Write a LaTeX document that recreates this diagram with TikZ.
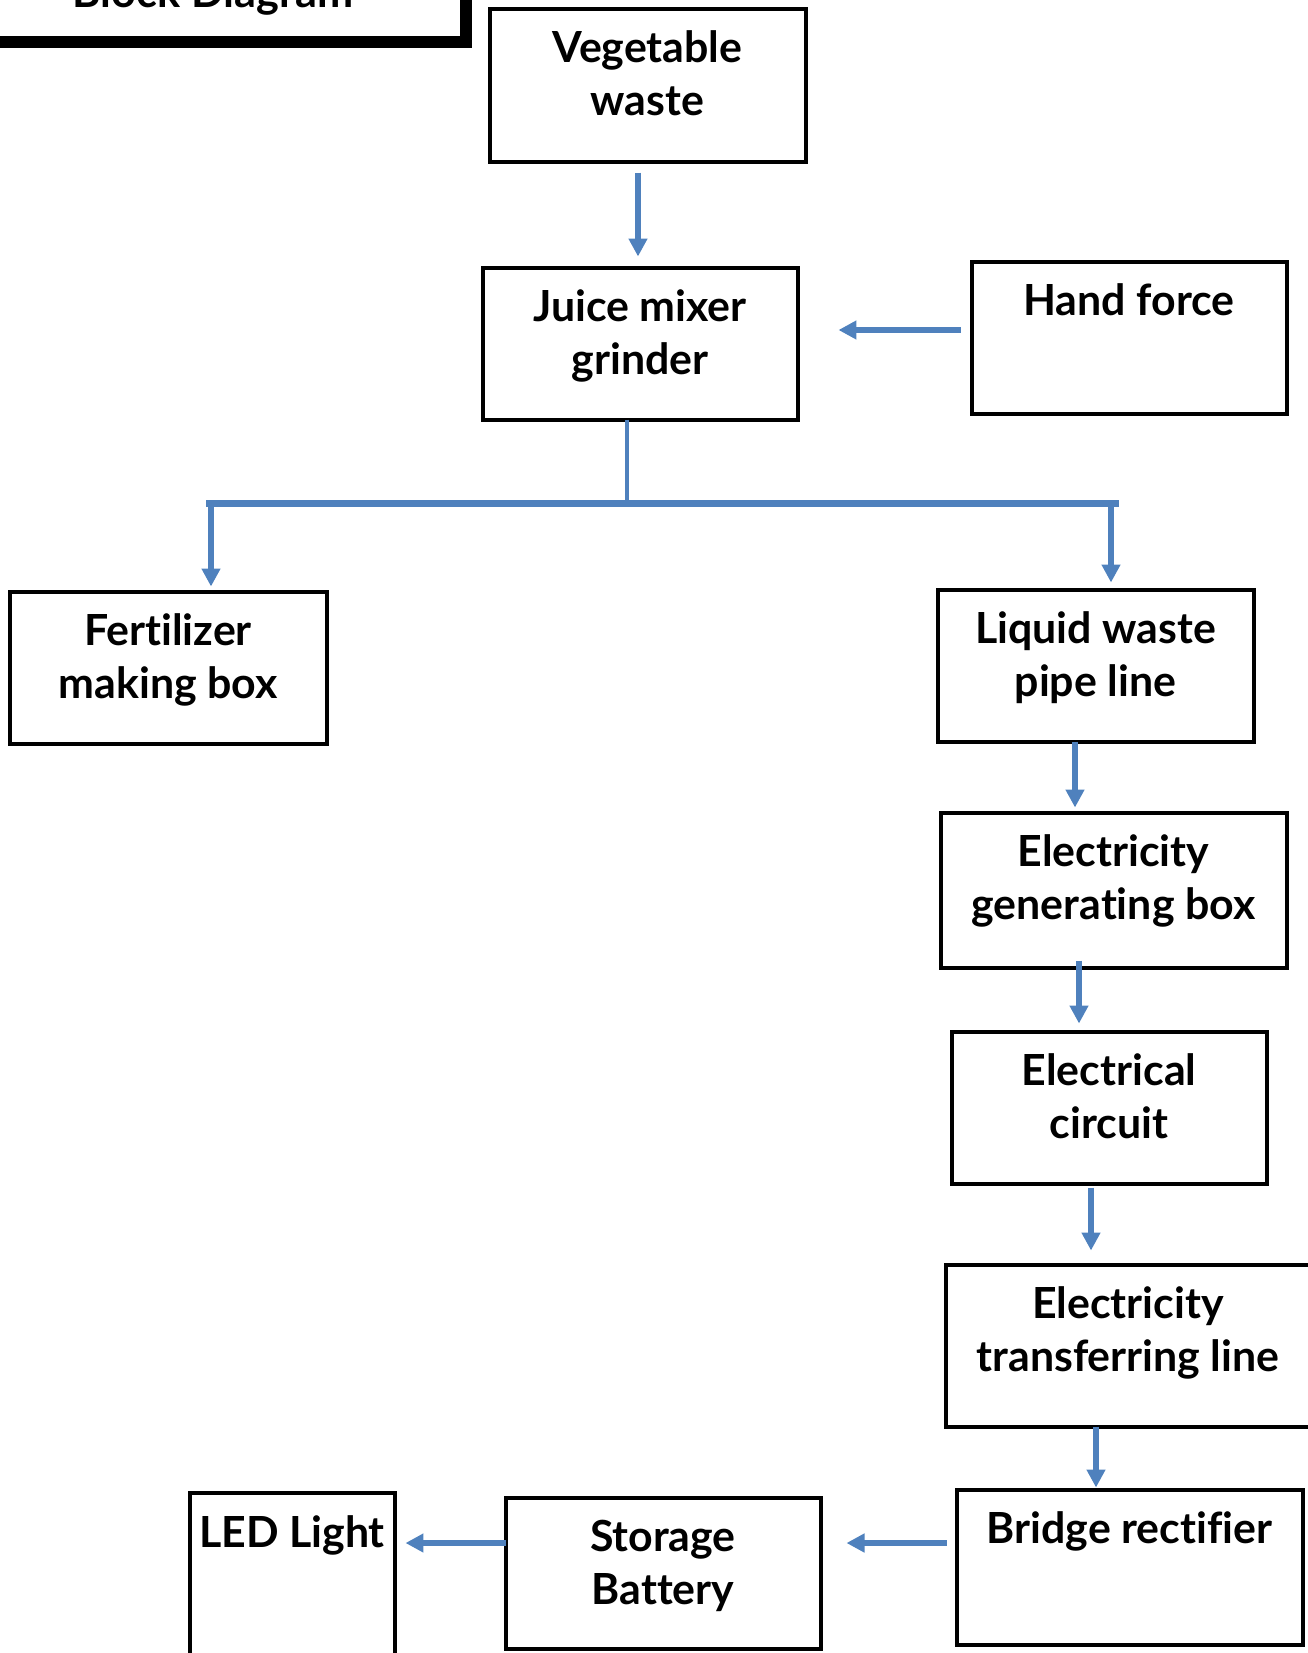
\documentclass[tikz,border=0pt]{standalone}
\usepackage{fontspec}
\setmainfont{Lato}[Ligatures=NoCommon]
\usetikzlibrary{arrows.meta,positioning,calc}
\definecolor{arrblue}{RGB}{79,129,189}
\newdimen\pxu \pxu=0.02cm
\tikzset{
  blok/.style={draw, line width=4\pxu, inner sep=0pt, outer sep=0pt},
  lbl/.style={anchor=base, yshift=-54\pxu, align=center,
    font=\fontsize{24.4}{30}\selectfont\bfseries},
  lbltwo/.style={lbl, yshift=-53\pxu},
  titlebox/.style={draw, line width=12\pxu, inner sep=0pt, outer sep=0pt},
  ttl/.style={anchor=base, yshift=34\pxu, font=\fontsize{24.6}{30}\selectfont\bfseries},
  arr/.style={draw=arrblue, line width=6\pxu, -{Triangle[length=0.36cm,width=0.36cm]}},
  tap/.style={draw=arrblue, line width=4\pxu},
  busline/.style={draw=arrblue, line width=7\pxu},
}
\begin{document}
\begin{tikzpicture}[x=0.02cm, y=-0.02cm]
  \useasboundingbox (0,0) rectangle (1308,1653);
  \clip (0,0) rectangle (1308,1653);

  % title box, cut by the page edge
  \node[titlebox, minimum width=506\pxu, minimum height=102\pxu,
    label={[ttl]south:Block Diagram}] (title) at (213,-9) {};

  % blocks
  \node[blok, minimum width=316\pxu, minimum height=153\pxu,
    label={[lbltwo]north:Vegetable\\waste}] (veg) at (647.5,85) {};
  \node[blok, minimum width=315\pxu, minimum height=152\pxu,
    label={[lbltwo]north:Juice mixer\\grinder}] (juice) at (640,343.5) {};
  \node[blok, minimum width=315\pxu, minimum height=152\pxu,
    label={[lbl]north:Hand force}] (hand) at (1129,337.5) {};
  \node[blok, minimum width=317\pxu, minimum height=152\pxu,
    label={[lbltwo]north:Fertilizer\\making box}] (fert) at (168,667.5) {};
  \node[blok, minimum width=316\pxu, minimum height=152\pxu,
    label={[lbltwo]north:Liquid waste\\pipe line}] (liquid) at (1095.5,665.5) {};
  \node[blok, minimum width=346\pxu, minimum height=155\pxu,
    label={[lbltwo]north:Electricity\\generating box}] (gen) at (1113.5,890) {};
  \node[blok, minimum width=315\pxu, minimum height=152\pxu,
    label={[lbltwo]north:Electrical\\circuit}] (circ) at (1109,1107.5) {};
  \node[blok, minimum width=365\pxu, minimum height=162\pxu,
    label={[lbltwo]north:Electricity\\transferring line}] (trans) at (1128,1345.5) {};
  \node[blok, minimum width=346\pxu, minimum height=155\pxu,
    label={[lbl]north:Bridge rectifier}] (bridge) at (1129.5,1567) {};
  \node[blok, minimum width=315\pxu, minimum height=151\pxu,
    label={[lbltwo]north:Storage\\Battery}] (storage) at (663,1573) {};
  \node[blok, minimum width=205\pxu, minimum height=206\pxu,
    label={[lbl]north:LED Light}] (led) at (292,1596) {};

  % top part
  \draw[arr, shorten <=0.22cm, shorten >=0.22cm]
    ([xshift=-9.5\pxu]veg.south) -- ([xshift=-2\pxu]juice.north);
  \draw[arr, shorten <=0.22cm, shorten >=0.82cm]
    ([yshift=7.5\pxu]hand.west) -- ([yshift=13.5\pxu]juice.east);

  % split below the grinder
  \coordinate (bus) at (627,503);
  \coordinate (busL) at (206,503);
  \coordinate (busR) at (1119,503);
  \coordinate (fertIn) at ([xshift=43\pxu]fert.north);
  \coordinate (liqIn) at ([xshift=15.5\pxu]liquid.north);
  \draw[tap] (juice.south -| bus) -- ([yshift=-4\pxu]bus);
  \draw[busline] (busL) -- (busR);
  \draw[arr, shorten >=0.1cm] (bus -| fertIn) -- (fertIn);
  \draw[arr, shorten >=0.14cm] (bus -| liqIn) -- (liqIn);

  % electricity chain
  \draw[arr, shorten >=0.1cm]
    ([xshift=-20.5\pxu]liquid.south) -- ([xshift=-38.5\pxu]gen.north);
  \draw[arr, shorten <=-0.14cm, shorten >=0.16cm]
    ([xshift=-34.5\pxu]gen.south) -- ([xshift=-30\pxu]circ.north);
  \draw[arr, shorten <=0.08cm, shorten >=0.28cm]
    ([xshift=-18\pxu]circ.south) -- ([xshift=-37\pxu]trans.north);
  \draw[arr, shorten >=0.04cm]
    ([xshift=-32\pxu]trans.south) -- ([xshift=-33.5\pxu]bridge.north);
  \draw[arr, shorten <=0.2cm, shorten >=0.52cm]
    ([yshift=24\pxu]bridge.west) -- ([yshift=30\pxu]storage.east);
  \draw[arr, shorten >=0.22cm]
    ([yshift=30\pxu]storage.west) -- ([yshift=53\pxu]led.east);
\end{tikzpicture}
\end{document}
